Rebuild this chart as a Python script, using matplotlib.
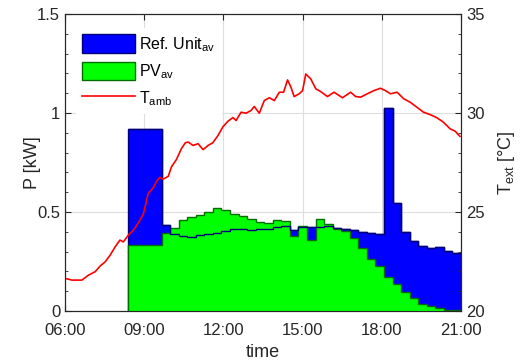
import matplotlib
matplotlib.use('Agg')
import matplotlib.pyplot as plt
from matplotlib.ticker import MultipleLocator
import numpy as np

plt.rcParams['font.family'] = ['Liberation Sans', 'DejaVu Sans']
plt.rcParams['mathtext.default'] = 'regular'

# averaged power per interval [kW]; first interval runs from start-up to 09:40
t_first = 8.40
t_edges = np.concatenate([[t_first], np.linspace(9.66, 21.0, 36)])

ref_unit = [0.920,
            0.433, 0.391, 0.378, 0.375, 0.383, 0.388, 0.395, 0.403, 0.416,
            0.413, 0.411, 0.413, 0.416, 0.423, 0.430, 0.410, 0.422, 0.424,
            0.425, 0.427, 0.418, 0.416, 0.411, 0.400, 0.392, 0.388, 1.026,
            0.545, 0.400, 0.354, 0.328, 0.316, 0.321, 0.305, 0.295]

pv = [0.333,
      0.394, 0.417, 0.462, 0.475, 0.487, 0.498, 0.521, 0.509, 0.492,
      0.480, 0.463, 0.450, 0.442, 0.458, 0.453, 0.380, 0.430, 0.358,
      0.467, 0.438, 0.416, 0.405, 0.371, 0.316, 0.265, 0.227, 0.173,
      0.136, 0.098, 0.064, 0.035, 0.025, 0.013, 0.005, 0.003]

# ambient temperature [degC] vs. time of day [h]
t_amb_time = [6.00, 6.26, 6.64, 6.89, 7.14, 7.33, 7.52, 7.71, 7.90, 8.08,
              8.21, 8.40, 8.59, 8.78, 8.97, 9.15, 9.34, 9.47, 9.59, 9.72,
              9.91, 10.03, 10.22, 10.41, 10.56, 10.67, 10.85, 11.04, 11.23, 11.42,
              11.60, 11.79, 11.98, 12.17, 12.36, 12.48, 12.67, 12.86, 13.05, 13.17,
              13.36, 13.55, 13.74, 13.93, 14.12, 14.28, 14.43, 14.56, 14.68, 14.87,
              15.00, 15.12, 15.31, 15.50, 15.69, 15.94, 16.19, 16.51, 16.82, 17.01,
              17.20, 17.45, 17.70, 17.95, 18.14, 18.33, 18.58, 18.83, 19.08, 19.33,
              19.58, 19.83, 20.09, 20.33, 20.59, 20.78, 20.96]
t_amb = [21.65, 21.56, 21.56, 21.81, 21.98, 22.27, 22.48, 22.82, 23.24, 23.58,
         23.49, 23.83, 24.08, 24.45, 24.90, 25.93, 26.22, 26.55, 26.75, 26.66,
         26.80, 27.27, 27.65, 28.20, 28.50, 28.53, 28.36, 28.45, 28.15, 28.36,
         28.50, 28.85, 29.30, 29.58, 29.77, 29.62, 30.04, 29.99, 30.13, 30.33,
         29.99, 30.63, 30.77, 30.63, 31.05, 31.05, 31.67, 31.30, 30.83, 30.97,
         31.13, 31.97, 31.72, 31.22, 31.08, 30.83, 31.05, 30.77, 31.05, 30.83,
         30.80, 30.97, 31.13, 31.25, 31.13, 30.97, 31.05, 30.72, 30.54, 30.29,
         30.04, 29.92, 29.76, 29.54, 29.20, 29.08, 28.82]

hour_ticks = [6, 9, 12, 15, 18, 21]
hour_labels = ['06:00', '09:00', '12:00', '15:00', '18:00', '21:00']

fig = plt.figure(figsize=(5.2, 3.63), dpi=100)
ax = fig.add_axes([0.125, 0.1433, 0.7615, 0.8181])
ax2 = ax.twinx()

h_ref = ax.stairs(ref_unit, t_edges, fill=True, facecolor='#0000ff',
                  edgecolor='#00007a', lw=1.0, zorder=2, label='Ref. Unit$_{av}$')
h_pv = ax.stairs(pv, t_edges, fill=True, facecolor='#00ff00',
                 edgecolor='#006e00', lw=1.0, zorder=3, label='PV$_{av}$')
# outline of the reference unit drawn over the PV area
ax.stairs(ref_unit, t_edges, baseline=None, color='#00007a', lw=1.0, zorder=4)

h_t, = ax2.plot(t_amb_time, t_amb, color='#ff0000', lw=1.2, label='T$_{amb}$')

ax.set_xlim(6, 21)
ax.set_ylim(0, 1.5)
ax2.set_ylim(20, 35)

ax.set_xticks(hour_ticks)
ax.set_xticklabels(hour_labels)
ax.set_yticks([0, 0.5, 1, 1.5])
ax.set_yticklabels(['0', '0.5', '1', '1.5'])
ax.yaxis.set_minor_locator(MultipleLocator(0.1))
ax2.set_yticks([20, 25, 30, 35])
ax2.yaxis.set_minor_locator(MultipleLocator(1))

txt = '#262626'
for a in (ax, ax2):
    a.tick_params(which='both', direction='in', colors=txt, labelsize=12)
    a.tick_params(which='major', length=4, width=0.8)
    a.tick_params(which='minor', length=2.5, width=0.6)
    for s in a.spines.values():
        s.set_color(txt)
        s.set_linewidth(0.8)
ax.tick_params(axis='x', top=True, pad=9)

ax.grid(True, color='#dedede', lw=0.8)
ax.set_axisbelow(True)

ax.set_xlabel('time', fontsize=13, color=txt, labelpad=4)
ax.set_ylabel('P [kW]', fontsize=13, color=txt, labelpad=-3)
ax2.set_ylabel('T$_{ext}$ [°C]', fontsize=13, color=txt, labelpad=8)

leg = ax2.legend(handles=[h_ref, h_pv, h_t], loc='upper left',
                 bbox_to_anchor=(0.028, 0.953), borderaxespad=0,
                 fontsize=11.5, handlelength=3.3, handleheight=1.4,
                 handletextpad=0.25, labelspacing=0.5, borderpad=0.4,
                 frameon=True, fancybox=False, framealpha=1)
leg.get_frame().set_edgecolor('none')
leg.get_frame().set_facecolor('white')

fig.savefig('out.png', dpi=100)
